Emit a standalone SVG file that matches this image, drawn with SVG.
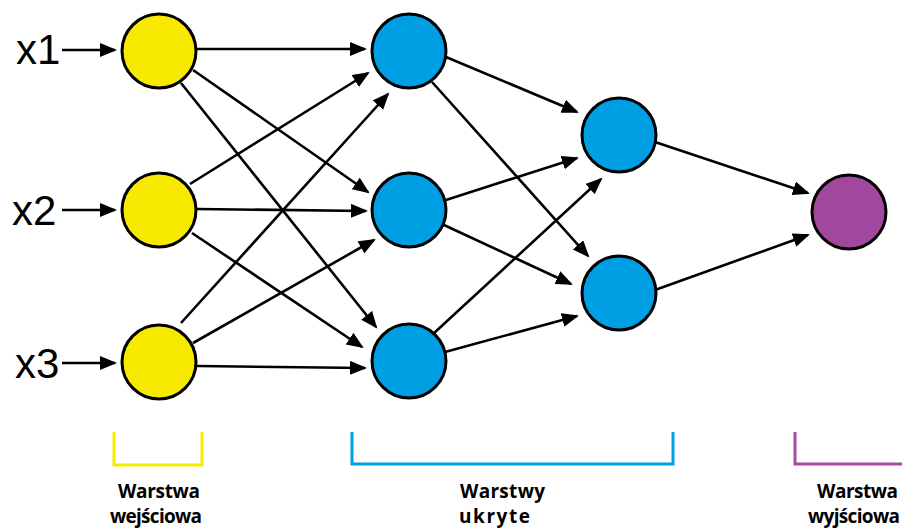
<svg xmlns="http://www.w3.org/2000/svg" width="902" height="528" viewBox="0 0 902 528">
<defs>
<marker id="ah" markerUnits="userSpaceOnUse" markerWidth="19" markerHeight="15" refX="15" refY="7" orient="auto">
<path d="M0,0 L17,7 L0,14 z" fill="#000"/>
</marker>
<style>
.node{stroke:#000;stroke-width:3}
.in{fill:#f7ea00}
.hid{fill:#009fe3}
.out{fill:#a1479e}
.c line{stroke:#000;stroke-width:2.6;marker-end:url(#ah)}
.xl{font-family:"Liberation Sans",Arial,sans-serif;font-size:42px;fill:#000}
.lb{font-family:"Open Sans","DejaVu Sans",sans-serif;font-weight:700;font-size:19px;fill:#000}
.br{fill:none;stroke-width:3}
</style>
</defs>
<rect width="902" height="528" fill="#fff"/>
<g id="connectors" class="c">
<line x1="62" y1="50" x2="115" y2="50"/>
<line x1="62" y1="210" x2="115" y2="210"/>
<line x1="62" y1="363" x2="115" y2="363"/>
<line x1="197" y1="49" x2="365" y2="49"/>
<line x1="193" y1="70" x2="368" y2="192"/>
<line x1="181" y1="83" x2="376" y2="327"/>
<line x1="190" y1="184" x2="368" y2="73"/>
<line x1="197" y1="209" x2="366" y2="211"/>
<line x1="192" y1="233" x2="362" y2="347"/>
<line x1="181" y1="323" x2="388" y2="94"/>
<line x1="193" y1="343" x2="374" y2="240"/>
<line x1="197" y1="366" x2="365" y2="368"/>
<line x1="446" y1="57" x2="577" y2="112"/>
<line x1="432" y1="82" x2="588" y2="256"/>
<line x1="446" y1="200" x2="577" y2="158"/>
<line x1="444" y1="225" x2="571" y2="284"/>
<line x1="433" y1="334" x2="601" y2="179"/>
<line x1="445" y1="352" x2="577" y2="316"/>
<line x1="655" y1="142" x2="808" y2="193"/>
<line x1="655" y1="290" x2="808" y2="235"/>
</g>
<g id="in1"><circle class="node in" cx="159" cy="51" r="37"/></g>
<g id="in2"><circle class="node in" cx="159" cy="210" r="37"/></g>
<g id="in3"><circle class="node in" cx="159" cy="362" r="37"/></g>
<g id="h1a"><circle class="node hid" cx="409" cy="51" r="37"/></g>
<g id="h1b"><circle class="node hid" cx="409" cy="210" r="37"/></g>
<g id="h1c"><circle class="node hid" cx="409" cy="361" r="37"/></g>
<g id="h2a"><circle class="node hid" cx="619" cy="135" r="37"/></g>
<g id="h2b"><circle class="node hid" cx="619" cy="293" r="37"/></g>
<g id="out"><circle class="node out" cx="849" cy="212" r="37"/></g>
<g id="labels">
<text class="xl" x="16" y="64">x1</text>
<text class="xl" x="12" y="225">x2</text>
<text class="xl" x="15" y="378">x3</text>
</g>
<g id="layer-input">
<path class="br" stroke="#f7ea00" d="M114,432 V465 H202 V432"/>
<text class="lb" x="118" y="498" textLength="82">Warstwa</text>
<text class="lb" x="110" y="523" textLength="92">wejściowa</text>
</g>
<g id="layer-hidden">
<path class="br" stroke="#00a0e3" d="M352,432 V464 H673 V432"/>
<text class="lb" x="460" y="498" textLength="85">Warstwy</text>
<text class="lb" x="459" y="523" textLength="71">ukryte</text>
</g>
<g id="layer-output">
<path class="br" stroke="#a54ba0" d="M795,432 V464 H905"/>
<text class="lb" x="817" y="498" textLength="81">Warstwa</text>
<text class="lb" x="808" y="523" textLength="92">wyjściowa</text>
</g>
</svg>
